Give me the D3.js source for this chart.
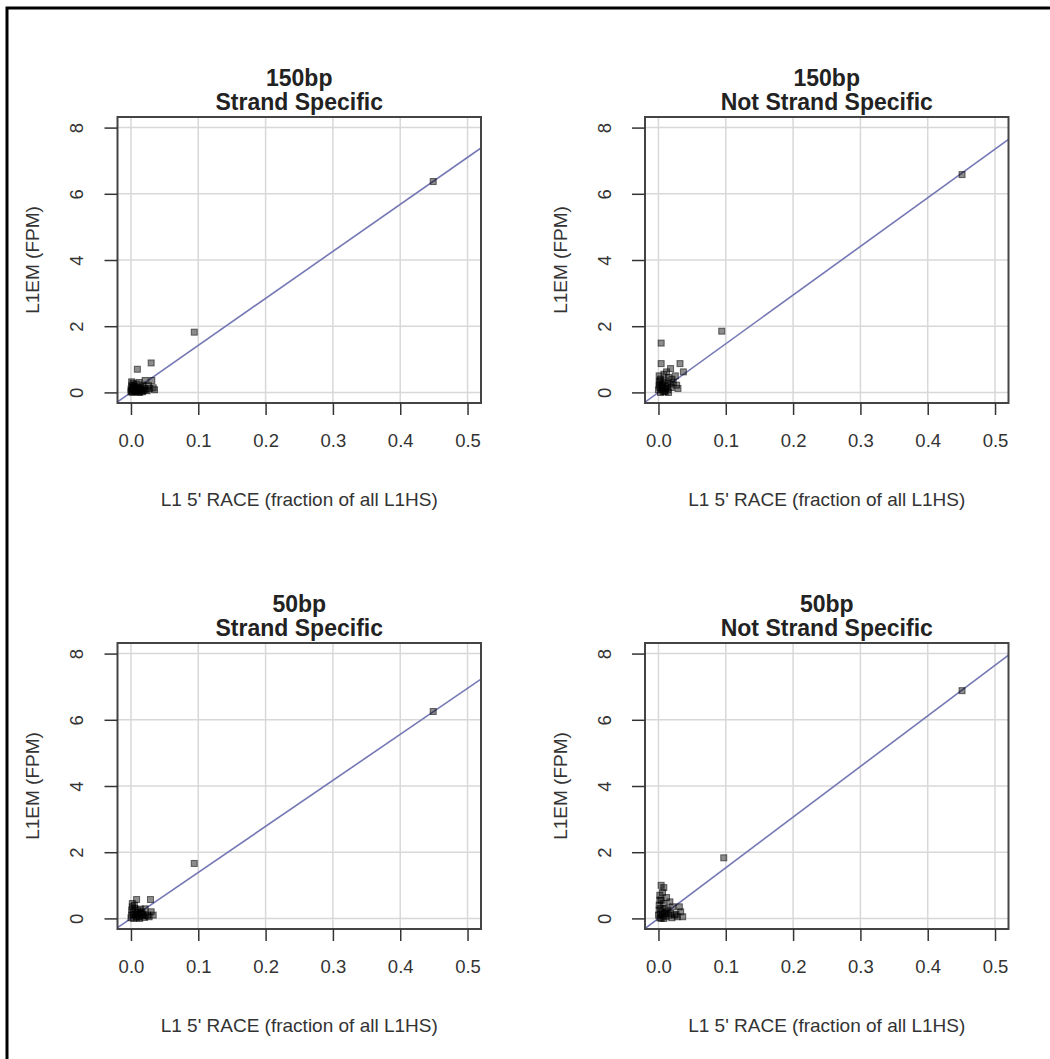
<!DOCTYPE html>
<html>
<head>
<meta charset="utf-8">
<script src="https://cdn.jsdelivr.net/npm/d3@7"></script>
<style>
  body { margin: 0; background: #fff; }
  svg { font-family: "Liberation Sans", Arial, sans-serif; }
</style>
</head>
<body>
<svg id="chart" width="1050" height="1059"></svg>
<script>
// panel titles
var titles = [
  ["150bp", "Strand Specific"],
  ["150bp", "Not Strand Specific"],
  ["50bp", "Strand Specific"],
  ["50bp", "Not Strand Specific"]
];

// tick labels
var xTicks = [0.0, 0.1, 0.2, 0.3, 0.4, 0.5];
var yTicks = [0, 2, 4, 6, 8];

// fitted line slopes (through origin)
var fitSlope = [14.2, 14.7, 13.9, 15.3];

// points, panel by panel
var x150ss = [0.449, 0.094, 0.0095, 0.030, 0.021, 0.031, 0.033, 0.035, 0.026, 0.018, 0.012, 0.008, 0.005, 0.003, 0.001, 0.000, 0.002, 0.004, 0.006, 0.010, 0.014, 0.016, 0.020, 0.024, 0.007, 0.003, 0.001, 0.009, 0.012, 0.015, 0.000, 0.002, 0.005, 0.011, 0.019, 0.028, 0.001, 0.004, 0.008, 0.013, 0.017, 0.022];
var y150ss = [6.37, 1.82, 0.70, 0.89, 0.36, 0.36, 0.14, 0.08, 0.20, 0.22, 0.30, 0.25, 0.18, 0.10, 0.05, 0.02, 0.15, 0.08, 0.12, 0.06, 0.10, 0.04, 0.12, 0.05, 0.02, 0.28, 0.20, 0.15, 0.08, 0.16, 0.10, 0.00, 0.03, 0.01, 0.06, 0.12, 0.32, 0.22, 0.05, 0.00, 0.02, 0.08];

var x150ns = [0.451, 0.094, 0.004, 0.004, 0.032, 0.018, 0.012, 0.037, 0.025, 0.029, 0.020, 0.015, 0.008, 0.003, 0.001, 0.006, 0.010, 0.013, 0.002, 0.000, 0.005, 0.009, 0.017, 0.022, 0.027, 0.011, 0.004, 0.007, 0.001, 0.014, 0.019, 0.003, 0.002, 0.006, 0.010, 0.015, 0.001, 0.008];
var y150ns = [6.58, 1.85, 1.49, 0.87, 0.87, 0.72, 0.62, 0.62, 0.50, 0.12, 0.40, 0.45, 0.55, 0.40, 0.30, 0.25, 0.35, 0.20, 0.15, 0.08, 0.10, 0.05, 0.25, 0.30, 0.22, 0.12, 0.20, 0.02, 0.50, 0.08, 0.15, 0.00, 0.35, 0.15, 0.02, 0.00, 0.22, 0.30];

var x50ss = [0.449, 0.094, 0.0084, 0.029, 0.021, 0.030, 0.033, 0.002, 0.005, 0.010, 0.015, 0.018, 0.001, 0.003, 0.007, 0.012, 0.020, 0.025, 0.000, 0.004, 0.008, 0.011, 0.014, 0.017, 0.006, 0.002, 0.009, 0.013, 0.022, 0.027, 0.001, 0.004, 0.010, 0.016];
var y50ss = [6.25, 1.66, 0.57, 0.57, 0.29, 0.20, 0.10, 0.35, 0.40, 0.25, 0.15, 0.08, 0.10, 0.20, 0.12, 0.05, 0.03, 0.10, 0.02, 0.00, 0.06, 0.18, 0.28, 0.12, 0.30, 0.45, 0.02, 0.00, 0.08, 0.05, 0.25, 0.12, 0.10, 0.20];

var x50ns = [0.451, 0.097, 0.004, 0.008, 0.006, 0.012, 0.004, 0.017, 0.021, 0.031, 0.033, 0.002, 0.001, 0.003, 0.005, 0.007, 0.010, 0.014, 0.018, 0.024, 0.028, 0.000, 0.002, 0.006, 0.009, 0.011, 0.015, 0.020, 0.026, 0.036, 0.004, 0.008, 0.001, 0.003, 0.012, 0.002];
var y50ns = [6.88, 1.83, 1.00, 0.93, 0.78, 0.63, 0.55, 0.50, 0.35, 0.35, 0.20, 0.70, 0.40, 0.30, 0.20, 0.45, 0.30, 0.25, 0.15, 0.10, 0.05, 0.10, 0.02, 0.08, 0.15, 0.05, 0.10, 0.02, 0.12, 0.05, 0.00, 0.00, 0.25, 0.12, 0.20, 0.55];

var panelX = [x150ss, x150ns, x50ss, x50ns];
var panelY = [y150ss, y150ns, y50ss, y50ns];

var svg = d3.select("#chart");

// outer frame (runs off the right/bottom of the window)
svg.append("rect")
  .attr("x", 7).attr("y", 8)
  .attr("width", 1060).attr("height", 1060)
  .attr("fill", "none").attr("stroke", "#000").attr("stroke-width", 3);

var dx = 527.5, dy = 526;
var box = {left: 117.5, right: 481, top: 117, bottom: 403};

var x = d3.scaleLinear().domain([-0.02, 0.52]).range([box.left, box.right]);
var y = d3.scaleLinear().domain([-0.32, 8.32]).range([box.bottom, box.top]);

for (var p = 0; p < 4; p++) {
  var g = svg.append("g")
    .attr("transform", "translate(" + (p % 2) * dx + "," + Math.floor(p / 2) * dy + ")");

  // grid
  g.selectAll(".gx").data(xTicks).enter().append("line")
    .attr("x1", function(d) { return x(d); }).attr("x2", function(d) { return x(d); })
    .attr("y1", box.top).attr("y2", box.bottom)
    .attr("stroke", "#d8d8d8").attr("stroke-width", 1.5);
  g.selectAll(".gy").data(yTicks).enter().append("line")
    .attr("y1", function(d) { return y(d); }).attr("y2", function(d) { return y(d); })
    .attr("x1", box.left).attr("x2", box.right)
    .attr("stroke", "#d8d8d8").attr("stroke-width", 1.5);

  // fit line, clipped to the box
  var clipId = "clip" + p;
  g.append("clipPath").attr("id", clipId).append("rect")
    .attr("x", box.left).attr("y", box.top)
    .attr("width", box.right - box.left).attr("height", box.bottom - box.top);
  var s = fitSlope[p];
  g.append("line")
    .attr("clip-path", "url(#" + clipId + ")")
    .attr("x1", x(-0.02)).attr("y1", y(-0.02 * s))
    .attr("x2", x(0.52)).attr("y2", y(0.52 * s))
    .attr("stroke", "#7477b4").attr("stroke-width", 1.6);

  // points
  var pts = panelX[p].map(function(v, i) { return [v, panelY[p][i]]; });
  g.selectAll(".pt").data(pts).enter().append("rect")
    .attr("x", function(d) { return x(d[0]) - 3; })
    .attr("y", function(d) { return y(d[1]) - 3; })
    .attr("width", 6).attr("height", 6)
    .attr("fill", "rgba(0,0,0,0.45)")
    .attr("stroke", "rgba(0,0,0,0.55)").attr("stroke-width", 1);

  // box
  g.append("rect")
    .attr("x", box.left).attr("y", box.top)
    .attr("width", box.right - box.left).attr("height", box.bottom - box.top)
    .attr("fill", "none").attr("stroke", "#444").attr("stroke-width", 2);

  // x axis
  var xa = g.append("g")
    .attr("transform", "translate(0," + box.bottom + ")")
    .call(d3.axisBottom(x).tickValues(xTicks).tickFormat(d3.format(".1f")).tickSize(12).tickPadding(19));
  xa.select(".domain").remove();
  xa.selectAll("line").attr("stroke", "#333").attr("stroke-width", 1.5);
  xa.selectAll("text").attr("font-size", 18.5).attr("fill", "#333");

  // y axis
  var ya = g.append("g")
    .attr("transform", "translate(" + box.left + ",0)")
    .call(d3.axisLeft(y).tickValues(yTicks).tickSize(13).tickPadding(0));
  ya.select(".domain").remove();
  ya.selectAll("line").attr("stroke", "#333").attr("stroke-width", 1.5);
  ya.selectAll("text")
    .attr("font-size", 18.5).attr("fill", "#333")
    .attr("x", 0).attr("dy", 0)
    .attr("text-anchor", "middle")
    .attr("transform", "translate(-41,0) rotate(-90)")
    .attr("dominant-baseline", "central");

  // axis titles
  g.append("text")
    .attr("x", (box.left + box.right) / 2).attr("y", 506)
    .attr("text-anchor", "middle").attr("font-size", 19).attr("fill", "#333")
    .text("L1 5' RACE (fraction of all L1HS)");
  g.append("text")
    .attr("transform", "translate(39," + (box.top + box.bottom) / 2 + ") rotate(-90)")
    .attr("text-anchor", "middle").attr("font-size", 19).attr("fill", "#333")
    .text("L1EM (FPM)");

  // title
  g.append("text")
    .attr("x", (box.left + box.right) / 2).attr("y", 86)
    .attr("text-anchor", "middle").attr("font-size", 23).attr("font-weight", "bold").attr("fill", "#222")
    .text(titles[p][0]);
  g.append("text")
    .attr("x", (box.left + box.right) / 2).attr("y", 110)
    .attr("text-anchor", "middle").attr("font-size", 23).attr("font-weight", "bold").attr("fill", "#222")
    .text(titles[p][1]);
}
</script>
</body>
</html>
